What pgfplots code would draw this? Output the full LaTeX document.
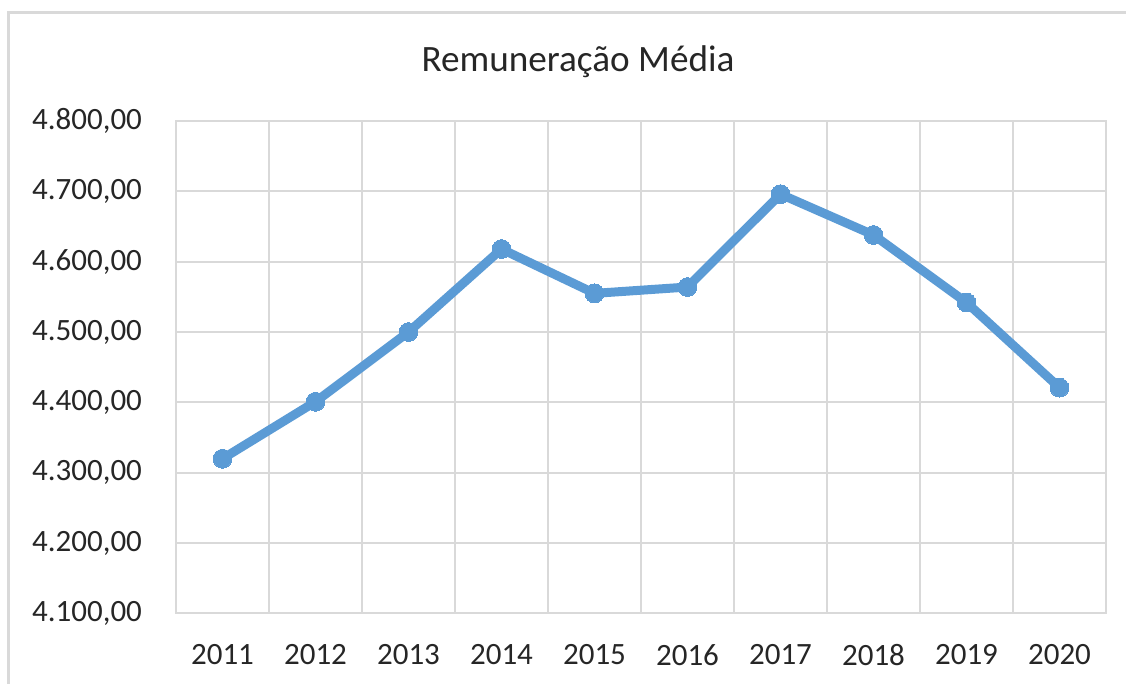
\documentclass[border=0pt]{standalone}
\usepackage{pgfplots}
\pgfplotsset{compat=1.18}
\usepackage{fontspec}
\setmainfont{Carlito}
\definecolor{gridc}{HTML}{D9D9D9}
\definecolor{linec}{HTML}{5B9BD5}
\definecolor{textc}{HTML}{262626}
\begin{document}
\begin{tikzpicture}
\useasboundingbox (0,0) rectangle (563pt,342pt);
\draw[gridc, line width=1.5pt] (4pt,-5pt) -- (4pt,335.75pt) -- (570pt,335.75pt);
\node[anchor=base, font=\fontsize{18.6pt}{22pt}\selectfont, text=textc, inner sep=0pt] at (289pt,306pt) {Remuneração Média};
\begin{axis}[
  at={(88pt,35.25pt)}, anchor=south west,
  scale only axis,
  width=465pt, height=246.25pt,
  xmin=-0.5, xmax=9.5,
  ymin=4100, ymax=4800,
  xtick={0,...,9},
  xticklabels={2011,2012,2013,2014,2015,2016,2017,2018,2019,2020},
  minor xtick={-0.5,0.5,...,9.5},
  ytick={4100,4200,...,4800},
  xminorgrids=true, ymajorgrids=true, xmajorgrids=false,
  grid style={gridc, line width=1pt},
  minor grid style={gridc, line width=1pt},
  axis line style={gridc, line width=1pt},
  major tick length=0pt, minor tick length=0pt,
  tick style={draw=none},
  ticklabel style={font=\fontsize{15.5pt}{18pt}\selectfont, text=textc},
  xticklabel style={yshift=-12pt},
  yticklabel style={xshift=-13.5pt},
  /pgf/number format/.cd, fixed, fixed zerofill, precision=2, use comma, 1000 sep={.}, assume math mode=true,
]
\addplot[linec, line width=4.5pt, mark=*, mark size=4.7pt, mark options={fill=linec, draw=linec, line width=0pt}, line join=round]
coordinates {
(0,4320) (1,4401) (2,4500) (3,4618) (4,4555) (5,4564) (6,4696) (7,4638) (8,4542) (9,4421)
};
\end{axis}
\end{tikzpicture}
\end{document}
